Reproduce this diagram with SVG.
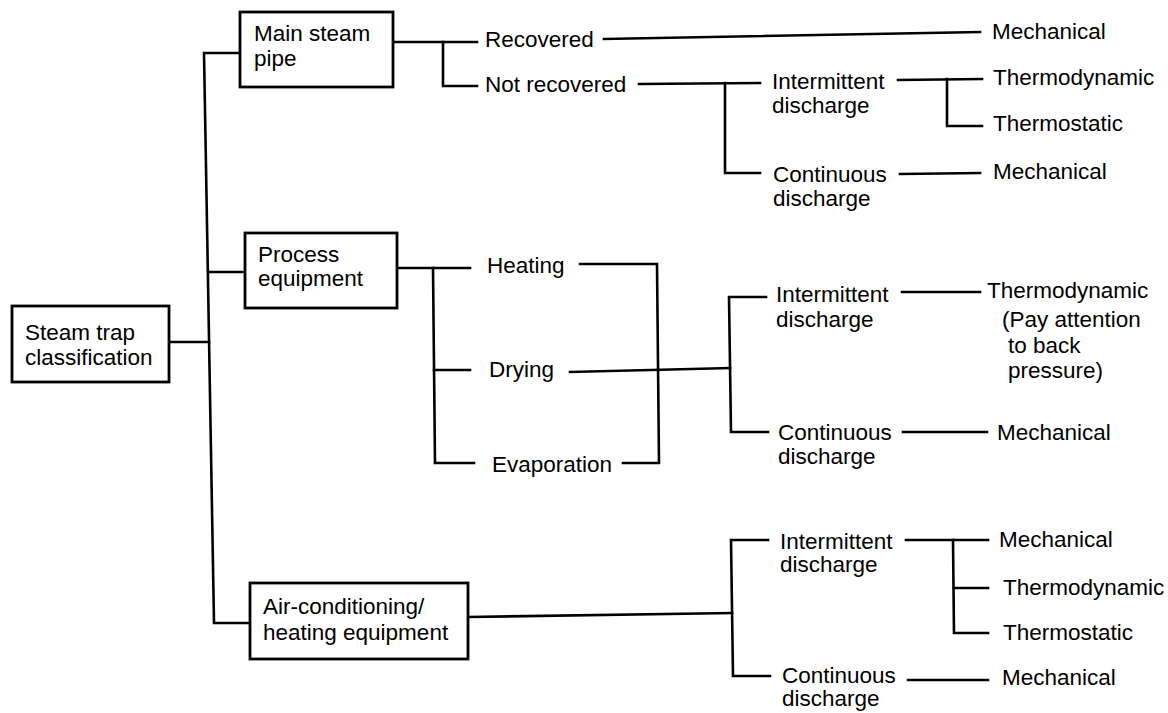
<svg xmlns="http://www.w3.org/2000/svg" width="1168" height="713" viewBox="0 0 1168 713">
<style>
.box{fill:#fff;stroke:#000;stroke-width:2.8}
.ln{fill:none;stroke:#000;stroke-width:2.6;stroke-linecap:square;stroke-linejoin:miter}
text{font-family:"Liberation Sans",Arial,sans-serif;font-size:22.5px;fill:#000}
</style>
<rect width="1168" height="713" fill="#fff"/>
<g id="connectors">
<path class="ln" d="M240,53 L204,53 L214,623 L250,623"/>
<path class="ln" d="M209,272 L245,272"/>
<path class="ln" d="M169,342 L209,342"/>
<path class="ln" d="M393,42 L477,42"/>
<path class="ln" d="M443,42 L443,86 L477,86"/>
<path class="ln" d="M604,39 L980,32"/>
<path class="ln" d="M639,84 L760,83"/>
<path class="ln" d="M725,83 L725,173 L760,173"/>
<path class="ln" d="M898,80 L982,79"/>
<path class="ln" d="M947,79 L947,126 L982,126"/>
<path class="ln" d="M900,174 L980,173"/>
<path class="ln" d="M397,268 L470,268"/>
<path class="ln" d="M433,268 L435,463 L474,463"/>
<path class="ln" d="M434,370 L470,370"/>
<path class="ln" d="M580,264 L657,264 L659,463 L623,463"/>
<path class="ln" d="M570,372 L730,368"/>
<path class="ln" d="M766,297 L729,297 L731,432 L768,432"/>
<path class="ln" d="M902,292 L980,292"/>
<path class="ln" d="M903,432 L987,432"/>
<path class="ln" d="M468,617 L732,613"/>
<path class="ln" d="M768,540 L731,540 L733,676 L770,676"/>
<path class="ln" d="M906,540 L988,540"/>
<path class="ln" d="M953,540 L954,633 L988,633"/>
<path class="ln" d="M954,588 L988,588"/>
<path class="ln" d="M908,680 L988,680"/>
</g>
<g id="steam-trap-classification">
<rect class="box" x="12" y="306" width="157" height="76"/>
<text x="25" y="340">Steam trap</text>
<text x="25" y="365">classification</text>
</g>
<g id="main-steam-pipe">
<rect class="box" x="240" y="12" width="153" height="75"/>
<text x="254" y="41">Main steam</text>
<text x="254" y="66">pipe</text>
</g>
<g id="process-equipment">
<rect class="box" x="245" y="233" width="152" height="75"/>
<text x="258" y="262">Process</text>
<text x="258" y="286">equipment</text>
</g>
<g id="air-conditioning">
<rect class="box" x="250" y="583" width="218" height="76"/>
<text x="263" y="614">Air-conditioning/</text>
<text x="263" y="640">heating equipment</text>
</g>
<g id="recovered"><text x="485" y="47">Recovered</text></g>
<g id="not-recovered"><text x="485" y="92">Not recovered</text></g>
<g id="mechanical-1"><text x="992" y="39">Mechanical</text></g>
<g id="intermittent-1"><text x="772" y="89">Intermittent</text><text x="772" y="113">discharge</text></g>
<g id="thermodynamic-1"><text x="993" y="85">Thermodynamic</text></g>
<g id="thermostatic-1"><text x="993" y="131">Thermostatic</text></g>
<g id="continuous-1"><text x="773" y="182">Continuous</text><text x="773" y="206">discharge</text></g>
<g id="mechanical-2"><text x="993" y="179">Mechanical</text></g>
<g id="heating"><text x="487" y="273">Heating</text></g>
<g id="drying"><text x="489" y="377">Drying</text></g>
<g id="evaporation"><text x="492" y="472">Evaporation</text></g>
<g id="intermittent-2"><text x="776" y="302">Intermittent</text><text x="776" y="327">discharge</text></g>
<g id="thermodynamic-2"><text x="987" y="298">Thermodynamic</text><text x="1002" y="327">(Pay attention</text><text x="1008" y="353">to back</text><text x="1008" y="378">pressure)</text></g>
<g id="continuous-2"><text x="778" y="440">Continuous</text><text x="778" y="464">discharge</text></g>
<g id="mechanical-3"><text x="997" y="440">Mechanical</text></g>
<g id="intermittent-3"><text x="780" y="549">Intermittent</text><text x="780" y="572">discharge</text></g>
<g id="mechanical-4"><text x="999" y="547">Mechanical</text></g>
<g id="thermodynamic-3"><text x="1003" y="595">Thermodynamic</text></g>
<g id="thermostatic-3"><text x="1003" y="640">Thermostatic</text></g>
<g id="continuous-3"><text x="782" y="683">Continuous</text><text x="782" y="706">discharge</text></g>
<g id="mechanical-5"><text x="1002" y="685">Mechanical</text></g>
</svg>
